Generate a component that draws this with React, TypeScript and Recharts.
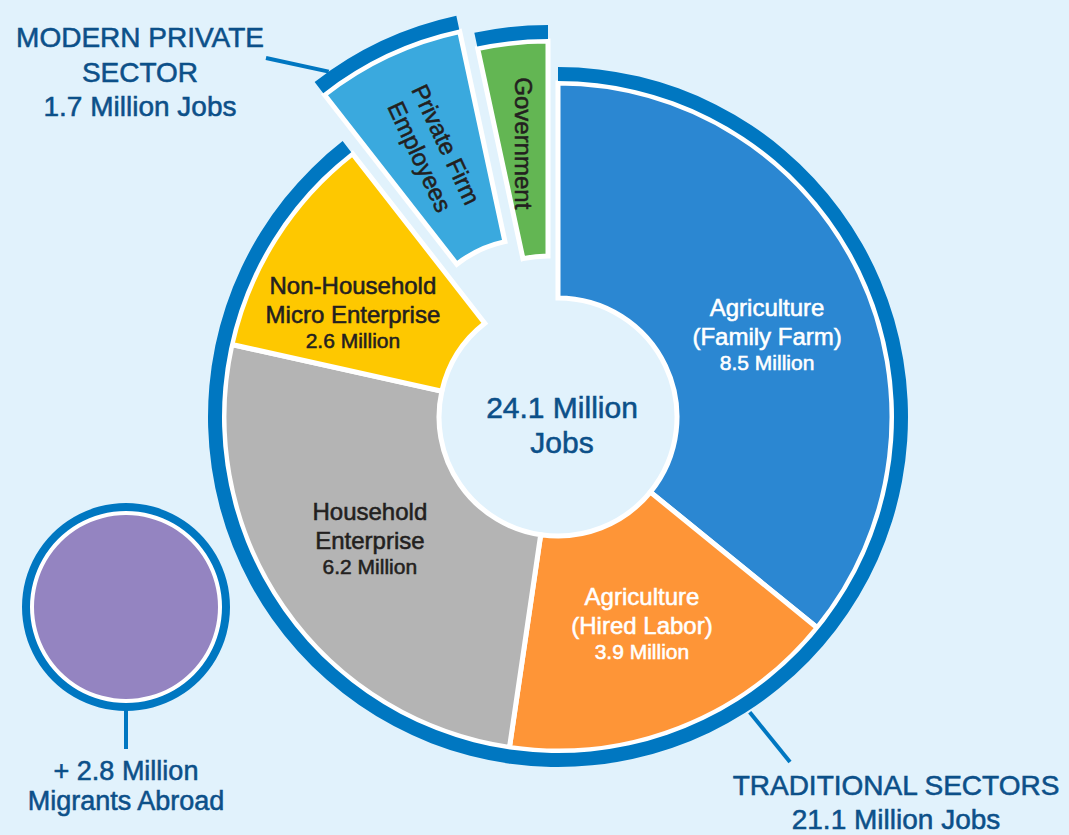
import { Cell, Pie, PieChart } from "recharts";

// jobs by sector, millions
const SECTORS = [
  "Agriculture (Family Farm)",
  "Agriculture (Hired Labor)",
  "Household Enterprise",
  "Non-Household Micro Enterprise",
  "Private Firm Employees",
  "Government",
];
const SECTOR_LINES = [
  ["Agriculture", "(Family Farm)"],
  ["Agriculture", "(Hired Labor)"],
  ["Household", "Enterprise"],
  ["Non-Household", "Micro Enterprise"],
  ["Private Firm", "Employees"],
  ["Government"],
];
const JOBS_MILLIONS = [8.5, 3.9, 6.2, 2.6, 1.7, 0.8];
const SHOW_VALUE = [true, true, true, true, false, false];
const IS_MODERN = [false, false, false, false, true, true];

const TOTAL_JOBS = 24.1;
const GROUP_NAMES = ["TRADITIONAL SECTORS", "MODERN PRIVATE SECTOR"];
const GROUP_JOBS = [21.1, 1.7];
const MIGRANTS_MILLIONS = 2.8;

// ---- styling / layout ----
const W = 1069;
const H = 835;
const BG = "#e1f2fc";
const RING = "#0077c1";
const NAVY = "#0c5089";
const DARK = "#231f20";
const FONT = "'Liberation Sans', Arial, Helvetica, sans-serif";
const COLORS = ["#2b87d2", "#fe9537", "#b4b4b4", "#fec800", "#3aa9de", "#63b653"];
const TEXT_COLORS = ["#ffffff", "#ffffff", DARK, DARK, DARK, DARK];
// a thin outline of the glyph colour to get a "medium" weight
const MEDIUM = 0.55;

const CX = 558;
const CY = 417;
const INNER = 119;
const OUTER = 334;
const RING_IN = 336;
const RING_OUT = 350;

// pulled-out slices (modern sector)
const EXPLODE: Record<number, { dx: number; dy: number }> = {
  4: { dx: -28, dy: -59 },
  5: { dx: -10, dy: -42 },
};

// label anchor: radius along mid angle + small nudge
const LABEL_POS = [
  { r: 226, dx: 5, dy: 25 },
  { r: 226, dx: 2, dy: 6 },
  { r: 226, dx: -2, dy: 4 },
  { r: 226, dx: -14, dy: 27 },
  { r: 229, dx: 0, dy: 0 },
  { r: 233, dx: 0, dy: 0 },
];

const RAD = Math.PI / 180;
const polar = (cx: number, cy: number, r: number, a: number) => ({
  x: cx + r * Math.cos(-a * RAD),
  y: cy + r * Math.sin(-a * RAD),
});

const sliceData = SECTORS.map((name, i) => ({ name, value: JOBS_MILLIONS[i] }));
const traditionalSum = JOBS_MILLIONS.filter((_, i) => !IS_MODERN[i]).reduce((a, b) => a + b, 0);
const ringData = [
  { name: GROUP_NAMES[0], value: traditionalSum },
  ...sliceData.filter((_, i) => IS_MODERN[i]),
];
const migrantsData = [{ name: "Migrants Abroad", value: MIGRANTS_MILLIONS }];
const totalData = [{ name: "Total", value: TOTAL_JOBS }];

const txt = (fill: string, size: number) => ({
  fontFamily: FONT,
  fontSize: size,
  fill,
  stroke: fill,
  strokeWidth: MEDIUM,
});

function sliceLabel(p: any, show: (i: number) => boolean) {
  const i = p.index;
  if (!show(i)) return <g key={`l${i}`} />;
  const pos = LABEL_POS[i];
  const c = polar(p.cx, p.cy, pos.r, p.midAngle);
  const x = c.x + pos.dx;
  const y = c.y + pos.dy;
  const fill = TEXT_COLORS[i];

  if (IS_MODERN[i]) {
    const rot = SECTOR_LINES[i].length > 1 ? 180 - p.midAngle : 90;
    const offs = SECTOR_LINES[i].length > 1 ? [-6, 23] : [8];
    return (
      <text
        key={`l${i}`}
        x={x}
        y={y}
        transform={`rotate(${rot} ${x} ${y})`}
        textAnchor="middle"
        {...txt(fill, 24)}
      >
        {SECTOR_LINES[i].map((t, k) => (
          <tspan key={k} x={x} y={y + offs[k]}>
            {t}
          </tspan>
        ))}
      </text>
    );
  }

  return (
    <text key={`l${i}`} x={x} y={y} textAnchor="middle" {...txt(fill, 24)}>
      <tspan x={x} y={y - 29}>
        {SECTOR_LINES[i][0]}
      </tspan>
      <tspan x={x} y={y}>
        {SECTOR_LINES[i][1]}
      </tspan>
      {SHOW_VALUE[i] && (
        <tspan x={x} y={y + 25} fontSize={21}>
          {`${JOBS_MILLIONS[i]} Million`}
        </tspan>
      )}
    </text>
  );
}

function ringLabel(p: any) {
  if (p.index === 0) {
    // traditional sectors callout, bottom right
    const a = polar(p.cx, p.cy, RING_OUT + 2, -57);
    return (
      <g key="trad">
        <line x1={a.x} y1={a.y} x2={790} y2={762} stroke={RING} strokeWidth={4} />
        <text x={896} y={795} textAnchor="middle" {...txt(NAVY, 28)}>
          {GROUP_NAMES[0]}
        </text>
        <text x={896} y={829} textAnchor="middle" {...txt(NAVY, 28)}>
          {`${GROUP_JOBS[0]} Million Jobs`}
        </text>
      </g>
    );
  }
  return <g key={`r${p.index}`} />;
}

function modernLabel(p: any) {
  if (p.index !== 1) return <g key={`m${p.index}`} />;
  const a = polar(p.cx, p.cy, RING_OUT, 125.1);
  return (
    <g key="modern">
      <line x1={a.x} y1={a.y} x2={266} y2={58} stroke={RING} strokeWidth={4} />
      <text x={140} y={47} textAnchor="middle" {...txt(NAVY, 28)}>
        MODERN PRIVATE
      </text>
      <text x={140} y={82} textAnchor="middle" {...txt(NAVY, 28)}>
        SECTOR
      </text>
      <text x={140} y={116} textAnchor="middle" {...txt(NAVY, 28)}>
        {`${GROUP_JOBS[1]} Million Jobs`}
      </text>
    </g>
  );
}

function migrantsLabel(p: any) {
  return (
    <g key="mig">
      <line x1={p.cx} y1={p.cy + 102} x2={p.cx} y2={p.cy + 142} stroke={RING} strokeWidth={4} />
      <text x={p.cx} y={780} textAnchor="middle" {...txt(NAVY, 27)}>
        {`+ ${MIGRANTS_MILLIONS} Million`}
      </text>
      <text x={p.cx} y={810} textAnchor="middle" {...txt(NAVY, 27)}>
        Migrants Abroad
      </text>
    </g>
  );
}

function totalLabel(p: any) {
  return (
    <text key="tot" x={p.cx + 4} y={p.cy} textAnchor="middle" {...txt(NAVY, 30)}>
      <tspan x={p.cx + 4} y={p.cy + 1}>{`${TOTAL_JOBS} Million`}</tspan>
      <tspan x={p.cx + 4} y={p.cy + 36}>Jobs</tspan>
    </text>
  );
}

// -1 = main donut, 4/5 = exploded slices
const LAYERS = [-1, 4, 5];

export default function App() {
  return (
    <div style={{ position: "absolute", left: 0, top: 0, width: W, height: H, background: BG }}>
      <PieChart width={W} height={H} margin={{ top: 0, right: 0, bottom: 0, left: 0 }}>
        {LAYERS.map((layer) => {
          const off = EXPLODE[layer] ?? { dx: 0, dy: 0 };
          const show = (i: number) => (layer < 0 ? !IS_MODERN[i] : i === layer);
          return (
            <Pie
              key={`s${layer}`}
              data={sliceData}
              dataKey="value"
              cx={CX + off.dx}
              cy={CY + off.dy}
              innerRadius={INNER}
              outerRadius={OUTER}
              startAngle={90}
              endAngle={-270}
              stroke="#ffffff"
              strokeWidth={5}
              labelLine={false}
              label={(p: any) => sliceLabel(p, show)}
              isAnimationActive={false}
            >
              {sliceData.map((_, i) => (
                <Cell
                  key={i}
                  fill={show(i) ? COLORS[i] : "none"}
                  stroke={show(i) ? "#ffffff" : "none"}
                />
              ))}
            </Pie>
          );
        })}

        {LAYERS.map((layer, k) => {
          const off = EXPLODE[layer] ?? { dx: 0, dy: 0 };
          return (
            <Pie
              key={`r${layer}`}
              data={ringData}
              dataKey="value"
              cx={CX + off.dx}
              cy={CY + off.dy}
              innerRadius={RING_IN}
              outerRadius={RING_OUT}
              startAngle={90}
              endAngle={-270}
              stroke="none"
              labelLine={false}
              label={k === 0 ? ringLabel : k === 1 ? modernLabel : false}
              isAnimationActive={false}
            >
              {ringData.map((_, i) => (
                <Cell key={i} fill={i === k ? RING : "none"} />
              ))}
            </Pie>
          );
        })}

        <Pie
          data={totalData}
          dataKey="value"
          cx={CX}
          cy={CY}
          innerRadius={0}
          outerRadius={110}
          fill="none"
          stroke="none"
          labelLine={false}
          label={totalLabel}
          isAnimationActive={false}
        />

        <Pie
          data={migrantsData}
          dataKey="value"
          cx={126}
          cy={607}
          innerRadius={0}
          outerRadius={104}
          fill={RING}
          stroke="none"
          isAnimationActive={false}
        />
        <Pie
          data={migrantsData}
          dataKey="value"
          cx={126}
          cy={607}
          innerRadius={0}
          outerRadius={96}
          fill="#ffffff"
          stroke="none"
          isAnimationActive={false}
        />
        <Pie
          data={migrantsData}
          dataKey="value"
          cx={126}
          cy={607}
          innerRadius={0}
          outerRadius={92}
          fill="#9484c1"
          stroke="none"
          labelLine={false}
          label={migrantsLabel}
          isAnimationActive={false}
        />
      </PieChart>
    </div>
  );
}
